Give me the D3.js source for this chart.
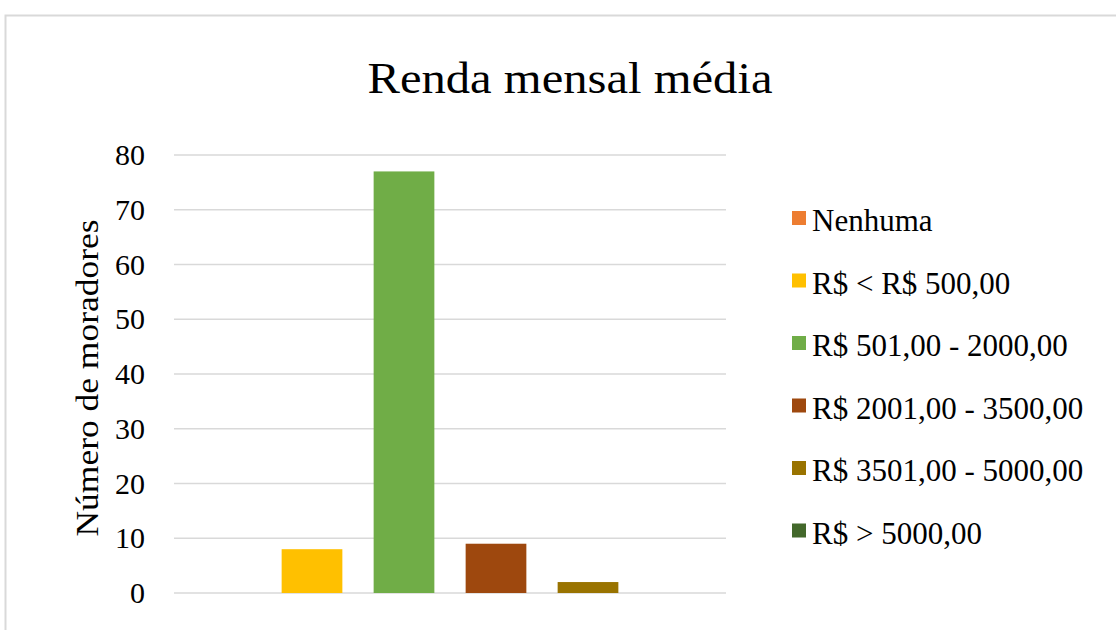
<!DOCTYPE html>
<html>
<head>
<meta charset="utf-8">
<script src="https://cdn.jsdelivr.net/npm/d3@7"></script>
<style>
  body { margin: 0; background: #fff; }
  text { font-family: "Liberation Serif", "DejaVu Serif", serif; fill: #000; }
</style>
</head>
<body>
<div id="chart"></div>
<script>
// data
const categories = ["Nenhuma", "R$ < R$ 500,00", "R$ 501,00 - 2000,00", "R$ 2001,00 - 3500,00", "R$ 3501,00 - 5000,00", "R$ > 5000,00"]
const values = [0, 8, 77, 9, 2, 0]
const colors = ["#ED7D31", "#FFC000", "#70AD47", "#9E480E", "#997300", "#43682B"]
const yTicks = [0, 10, 20, 30, 40, 50, 60, 70, 80]

const width = 1116, height = 630

const plot = { left: 174, right: 726, top: 155, bottom: 593 }

const svg = d3.select("#chart")
    .append("svg")
        .attr("width", width)
        .attr("height", height)

// chart frame
svg.append("rect")
    .attr("x", 5.5)
    .attr("y", 15.5)
    .attr("width", 1200)
    .attr("height", 700)
    .attr("fill", "#fff")
    .attr("stroke", "#d9d9d9")
    .attr("stroke-width", 2)

// title
svg.append("text")
    .attr("x", 570)
    .attr("y", 93)
    .attr("text-anchor", "middle")
    .attr("font-size", 45)
    .attr("textLength", 405)
    .attr("lengthAdjust", "spacingAndGlyphs")
    .text("Renda mensal média")

const x = d3.scaleBand()
    .domain(categories)
    .range([plot.left, plot.right])
    .paddingInner(0.34)
    .paddingOuter(0.17)

const y = d3.scaleLinear()
    .domain([0, 80])
    .range([plot.bottom, plot.top])

// gridlines
svg.append("g")
    .selectAll("line")
    .data(yTicks)
    .enter()
    .append("line")
        .attr("x1", plot.left)
        .attr("x2", plot.right)
        .attr("y1", d => y(d))
        .attr("y2", d => y(d))
        .attr("stroke", "#d9d9d9")
        .attr("stroke-width", 1.5)

// y axis labels
const yAxis = svg.append("g")
    .attr("transform", "translate(" + (plot.left - 29) + ",0)")
    .call(d3.axisLeft(y).tickValues(yTicks).tickSize(0).tickPadding(0))
yAxis.select(".domain").remove()
yAxis.selectAll("text")
    .attr("font-size", 30)
    .attr("font-family", "Liberation Serif")
    .attr("fill", "#000")

// axis title
svg.append("text")
    .attr("transform", "translate(98," + 378 + ") rotate(-90)")
    .attr("text-anchor", "middle")
    .attr("font-size", 31)
    .attr("textLength", 317)
    .attr("lengthAdjust", "spacingAndGlyphs")
    .text("Número de moradores")

// bars
svg.append("g")
    .selectAll("rect")
    .data(categories)
    .enter()
    .append("rect")
        .attr("x", d => x(d))
        .attr("width", x.bandwidth())
        .attr("y", (d, i) => y(values[i]))
        .attr("height", (d, i) => y(0) - y(values[i]))
        .attr("fill", (d, i) => colors[i])

// legend
const legend = svg.append("g")
    .selectAll("g")
    .data(categories)
    .enter()
    .append("g")
        .attr("transform", (d, i) => "translate(792," + (218 + i * 62.5) + ")")

legend.append("rect")
    .attr("x", 0)
    .attr("y", -7)
    .attr("width", 14)
    .attr("height", 14)
    .attr("fill", (d, i) => colors[i])

legend.append("text")
    .attr("x", 20)
    .attr("y", 13)
    .attr("font-size", 31)
    .text(d => d)
</script>
</body>
</html>
